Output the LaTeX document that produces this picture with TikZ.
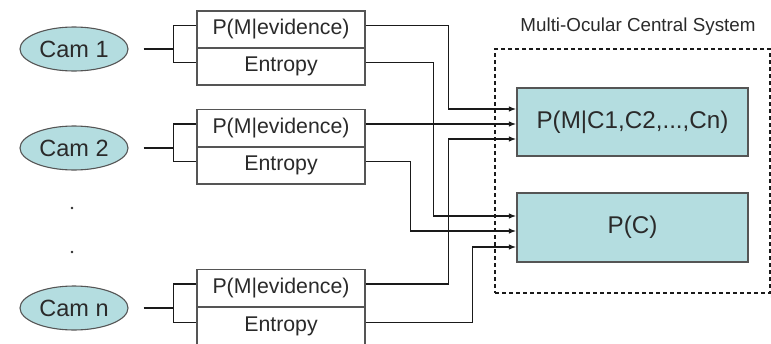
\documentclass[tikz,border=0pt]{standalone}
\usepackage{fontspec}
\setmainfont{Liberation Sans}
\usetikzlibrary{arrows.meta,shapes.geometric}
\definecolor{cyanfill}{HTML}{B4DDE0}
\definecolor{txt}{HTML}{2A2A2A}
\definecolor{edge}{HTML}{555555}
\definecolor{wire}{HTML}{1A1A1A}
\tikzset{
  cam/.style={ellipse, draw=edge, line width=1.1pt, fill=cyanfill, minimum width=108pt, minimum height=44pt, inner sep=0pt, text=txt, font=\fontsize{23.5}{28}\selectfont},
  cell/.style={rectangle, draw=edge, line width=1.1pt, fill=white, minimum width=168pt, minimum height=37pt, inner sep=0pt, text=txt, font=\fontsize{21.3}{25}\selectfont},
  central/.style={rectangle, draw=edge, line width=1.1pt, fill=cyanfill, minimum width=231pt, inner sep=0pt, text=txt, font=\fontsize{24.2}{29}\selectfont},
  wirel/.style={draw=wire, line width=1.5pt},
  arr/.style={wirel, -{Latex[length=7.5pt,width=5.5pt]}},
}
\begin{document}
\begin{tikzpicture}[x=1pt,y=-1pt]
\useasboundingbox (0,0) rectangle (771,343);

% cameras
\node[cam] (cam1) at (74,49) {Cam 1};
\node[cam] (cam2) at (74,148) {Cam 2};
\node[cam] (camn) at (74,308) {Cam n};
\fill[txt] (72,208) circle (1.4pt);
\fill[txt] (72,252) circle (1.4pt);

% per-camera output cells
\node[cell] (p1) at (281,29.5) {P(M|evidence)};
\node[cell] (e1) at (281,66.5) {Entropy};
\node[cell] (p2) at (281,128) {P(M|evidence)};
\node[cell] (e2) at (281,165.5) {Entropy};
\node[cell] (pn) at (281,288) {P(M|evidence)};
\node[cell, minimum height=39pt] (en) at (281,326.5) {Entropy};

% central system
\node[draw=wire, line width=1.2pt, dash pattern=on 4pt off 3pt, minimum width=275pt, minimum height=244pt, inner sep=0pt] (mcs) at (632.5,171) {};
\node[text=txt, font=\fontsize{18.8}{22}\selectfont] (title) at (638,27) {Multi-Ocular Central System};
\node[central, minimum height=68pt] (mbox) at (632.5,122) {P(M|C1,C2,...,Cn)};
\node[central, minimum height=69pt] (pc) at (632.5,227.5) {P(C)};

% camera brackets
\foreach \c/\p/\e in {cam1/p1/e1, cam2/p2/e2, camn/pn/en}{
  \draw[wirel] ([xshift=15pt]\c.east) -- ++(30,0) coordinate (b\c);
  \draw[wirel] ([yshift=4pt]\p.west) -| (b\c) |- ([yshift=4pt]\e.west);
}

% outputs into the central system
\coordinate (o2) at ([yshift=4pt]p2.east);
\draw[arr] ([yshift=4pt]p1.east) -- ++(83,0) |- ([yshift=13pt]mbox.west);
\draw[arr] (o2) -- (o2 -| mbox.west);
\draw[arr] ([yshift=4pt]pn.east) -- ++(83,0) |- ([yshift=-17pt]mbox.west);
\draw[arr] ([yshift=4pt]e1.east) -- ++(68,0) |- ([yshift=11.5pt]pc.west);
\draw[arr] ([yshift=4pt]e2.east) -- ++(45,0) |- ([yshift=-3.5pt]pc.west);
\draw[arr] ([yshift=4pt]en.east) -- ++(107,0) |- ([yshift=-19.5pt]pc.west);
\end{tikzpicture}
\end{document}
